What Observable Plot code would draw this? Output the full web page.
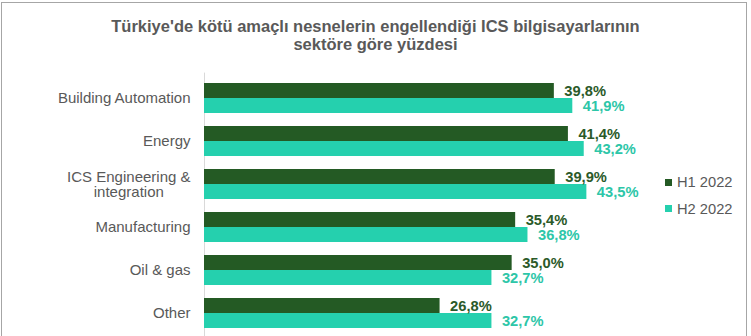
<!DOCTYPE html>
<html>
<head>
<meta charset="utf-8">
<script src="https://cdn.jsdelivr.net/npm/d3@7"></script>
<script src="https://cdn.jsdelivr.net/npm/@observablehq/plot@0.6"></script>
<style>
  html, body { margin: 0; padding: 0; background: #fff; }
  #wrap { position: relative; width: 751px; height: 336px; overflow: hidden; background: #fff;
          font-family: "Liberation Sans", Arial, sans-serif; }
  #frame { position: absolute; left: 1px; top: 2px; width: 744px; height: 360px; border: 1px solid #a6a6a6; box-sizing: content-box; }
  #title { position: absolute; left: 0; top: 17px; width: 751px; text-align: center; font-weight: bold;
           font-size: 16.5px; line-height: 18px; color: #595959; }
  #chart { position: absolute; left: 0; top: 0; }
  #legend { position: absolute; left: 665px; top: 174px; font-size: 14.7px; color: #595959; }
  .row { display: flex; align-items: center; height: 16px; margin-bottom: 10.5px; }
  .sw { width: 7px; height: 7px; margin-right: 5px; }
</style>
</head>
<body>
<div id="wrap">
  <div id="frame"></div>
  <div id="chart"></div>
  <div id="title">Türkiye'de kötü amaçlı nesnelerin engellendiği ICS bilgisayarlarının<br>sektöre göre yüzdesi</div>
  <div id="legend"></div>
</div>
<script>
const categories = ["Building Automation", "Energy", "ICS Engineering &\nintegration", "Manufacturing", "Oil & gas", "Other"];
const seriesNames = ["H1 2022", "H2 2022"];
const h1Values = [39.8, 41.4, 39.9, 35.4, 35.0, 26.8];
const h2Values = [41.9, 43.2, 43.5, 36.8, 32.7, 32.7];
const barColors = ["#245a24", "#25d0ae"];
const labelColors = ["#2b5a29", "#2dc6a8"];

const fmt = v => v.toFixed(1).replace(".", ",") + "%";
const h1 = categories.map((c, i) => ({category: c, value: h1Values[i]}));
const h2 = categories.map((c, i) => ({category: c, value: h2Values[i]}));

const plot = Plot.plot({
  width: 751,
  height: 336,
  marginLeft: 204,
  marginRight: 19.6,
  marginTop: 76.6,
  marginBottom: 2.6,
  style: {fontFamily: "'Liberation Sans', Arial, sans-serif", background: "transparent", color: "#595959"},
  x: {domain: [0, 60], axis: null},
  y: {domain: categories, paddingInner: 0.312, paddingOuter: 0.1, label: null},
  marks: [
    Plot.ruleX([0], {stroke: "#d9d9d9", strokeWidth: 1, insetTop: -4, insetBottom: -6}),
    Plot.barX(h1, {y: "category", x: "value", fill: barColors[0], insetBottom: 15}),
    Plot.barX(h2, {y: "category", x: "value", fill: barColors[1], insetTop: 15}),
    Plot.text(h1, {y: "category", x: "value", text: d => fmt(d.value), dx: 10, dy: -7.5, textAnchor: "start",
      fill: labelColors[0], fontWeight: "bold", fontSize: 14.7}),
    Plot.text(h2, {y: "category", x: "value", text: d => fmt(d.value), dx: 10, dy: 7.5, textAnchor: "start",
      fill: labelColors[1], fontWeight: "bold", fontSize: 14.7}),
    Plot.axisY({tickSize: 0, tickPadding: 14, fontSize: 15, fill: "#595959", label: null})
  ]
});
document.getElementById("chart").appendChild(plot);

// center the lines of multi-line tick labels within their block (block stays right-aligned)
plot.querySelectorAll('g[aria-label="y-axis tick label"] text').forEach(t => {
  const spans = t.querySelectorAll("tspan");
  if (spans.length < 2) return;
  let maxW = 0;
  spans.forEach(s => { maxW = Math.max(maxW, s.getComputedTextLength()); });
  t.setAttribute("text-anchor", "middle");
  spans.forEach(s => s.setAttribute("x", -maxW / 2));
});

const legend = document.getElementById("legend");
seriesNames.forEach((name, i) => {
  const row = document.createElement("div");
  row.className = "row";
  const sw = document.createElement("div");
  sw.className = "sw";
  sw.style.background = barColors[i];
  const t = document.createElement("span");
  t.textContent = name;
  row.appendChild(sw);
  row.appendChild(t);
  legend.appendChild(row);
});
</script>
</body>
</html>
